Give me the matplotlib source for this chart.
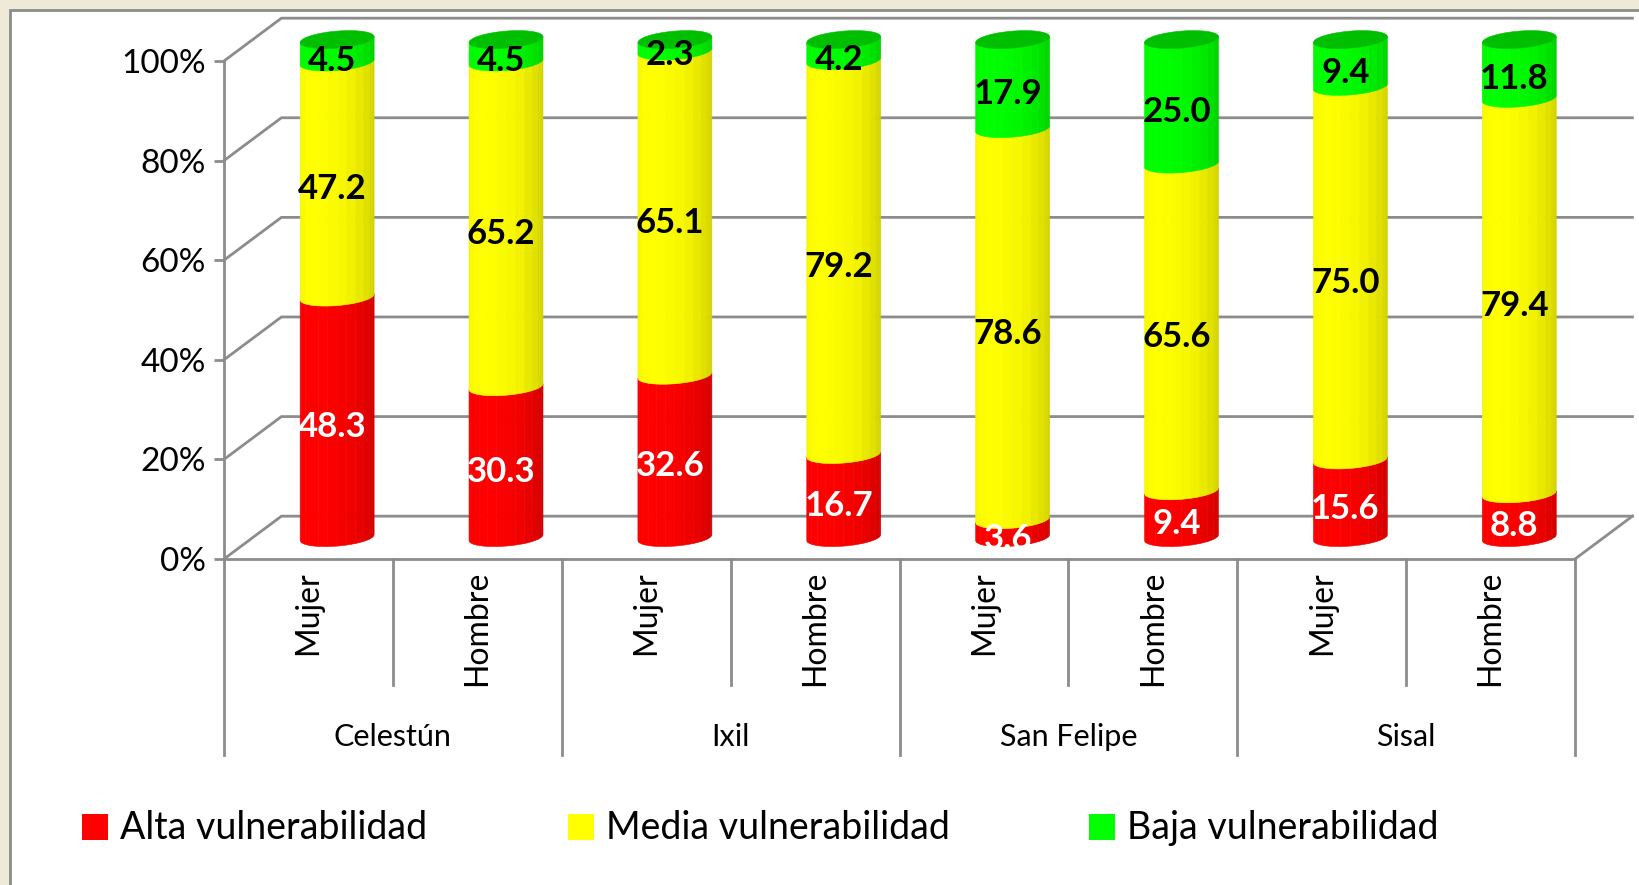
import numpy as np
import matplotlib.pyplot as plt
from matplotlib.patches import Polygon, Rectangle

# data
regions = ['Celestún', 'Ixil', 'San Felipe', 'Sisal']
sexes = ['Mujer', 'Hombre']
series = ['Alta vulnerabilidad', 'Media vulnerabilidad', 'Baja vulnerabilidad']
alta = [48.3, 30.3, 32.6, 16.7, 3.6, 9.4, 15.6, 8.8]
media = [47.2, 65.2, 65.1, 79.2, 78.6, 65.6, 75.0, 79.4]
baja = [4.5, 4.5, 2.3, 4.2, 17.9, 25.0, 9.4, 11.8]
yticks = [0, 20, 40, 60, 80, 100]

colors = [(1, 0, 0), (1, 1, 0), (0, 1, 0)]
top_color = (0, 0.75, 0)
label_colors = ['white', 'black', 'black']
grid_c = '#8c8c8c'

plt.rcParams['font.family'] = ['Lato', 'DejaVu Sans']

W, H = 1639, 885
fig = plt.figure(figsize=(W / 100, H / 100), dpi=100)
fig.patch.set_facecolor('#efe9d8')
fig.add_artist(Rectangle((10 / W, -0.05), 1.0, 1 - 10 / H + 0.05, transform=fig.transFigure,
                         facecolor='white', edgecolor=grid_c, lw=2, zorder=0))

ax = fig.add_axes([224 / W, 326 / H, 1351 / W, 498 / H])
ax.set_xlim(-0.5, 7.5)
ax.set_ylim(0, 100)
ax.patch.set_visible(False)

# 3d depth (x in category units, y in percent)
DX, DY = 0.34, 8.6

for y in yticks:
    ax.plot([-0.5, -0.5 + DX, 7.5 + DX], [y, y + DY, y + DY], color=grid_c, lw=2,
            clip_on=False, zorder=1)
ax.plot([7.5, 7.5 + DX], [0, DY], color=grid_c, lw=2, clip_on=False, zorder=1)

for s in ['top', 'right']:
    ax.spines[s].set_visible(False)
for s in ['left', 'bottom']:
    ax.spines[s].set_color(grid_c)
    ax.spines[s].set_linewidth(2)
ax.set_xticks([])
ax.set_yticks(yticks)
ax.set_yticklabels([f'{t}%' for t in yticks])
ax.tick_params(axis='y', length=7, width=2, color=grid_c, labelsize=24, pad=6)

# stacked cylinders
vals = np.array([alta, media, baja])
pct = vals / vals.sum(axis=0) * 100
cum = np.vstack([np.zeros(pct.shape[1]), np.cumsum(pct, axis=0)])

RX = 0.207
RD = 0.21
a, b = RD * DX, RD * DY
t1 = np.arctan2(a, RX)
N = 12
ts = np.linspace(np.pi + t1, 2 * np.pi + t1, N + 1)
light = np.array([-0.3, -1.0])
light = light / np.linalg.norm(light)


def arc(i, v, t):
    return i + DX / 2 + RX * np.cos(t) + a * np.sin(t), v + DY / 2 + b * np.sin(t)


for i in range(pct.shape[1]):
    for s in range(3):
        v0, v1 = cum[s, i], cum[s + 1, i]
        for k in range(N):
            tt = np.linspace(ts[k], ts[k + 1], 3)
            x0, y0 = arc(i, v0, tt)
            x1, y1 = arc(i, v1, tt[::-1])
            tm = 0.5 * (ts[k] + ts[k + 1])
            f = 0.88 + 0.12 * np.dot([np.cos(tm), np.sin(tm)], light)
            c = tuple(min(1, ch * f) for ch in colors[s])
            poly = Polygon(np.column_stack([np.r_[x0, x1], np.r_[y0, y1]]), closed=True,
                           facecolor=c, edgecolor=c, lw=0.4, zorder=3, clip_on=False)
            ax.add_patch(poly)
    tt = np.linspace(0, 2 * np.pi, 80)
    xc, yc = arc(i, 100, tt)
    ax.add_patch(Polygon(np.column_stack([xc, yc]), closed=True, facecolor=top_color,
                         edgecolor=top_color, lw=0.4, zorder=4, clip_on=False))

    for s in range(3):
        mid = 0.5 * (cum[s, i] + cum[s + 1, i])
        ax.text(i + DX / 2 - 0.03, mid + 2.3, f'{vals[s, i]:.1f}', ha='center', va='center',
                fontsize=25, fontweight='bold', color=label_colors[s], zorder=6, clip_on=False)

# category axis
for i in range(pct.shape[1]):
    ax.text(i, -2.4, sexes[i % 2], rotation=90, ha='center', va='top', fontsize=23)
for k in range(9):
    low = -39.4 if k % 2 == 0 else -25.3
    ax.plot([k - 0.5, k - 0.5], [0, low], color=grid_c, lw=2, clip_on=False)
for j, r in enumerate(regions):
    ax.text(2 * j + 0.5, -35.7, r, ha='center', va='center', fontsize=22)

# legend
leg_x = [82, 568, 1089]
for s in range(3):
    fig.add_artist(Rectangle((leg_x[s] / W, (H - 840) / H), 26 / W, 26 / H,
                             transform=fig.transFigure, facecolor=colors[s], edgecolor='none'))
    fig.text((leg_x[s] + 38) / W, (H - 828) / H, series[s], va='center', ha='left', fontsize=27)

fig.savefig('out.png', dpi=100, facecolor=fig.get_facecolor())
